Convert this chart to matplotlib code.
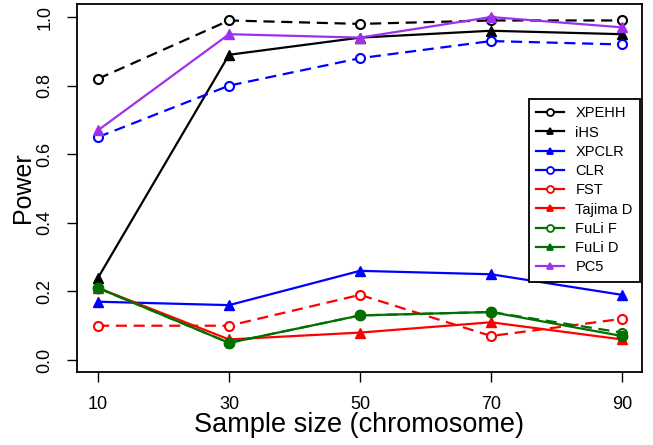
import numpy as np
import matplotlib.pyplot as plt
from matplotlib.lines import Line2D

#-------------- Data ----------------------------------------------------------------

sizes = [10, 30, 50, 70, 90]

xpehh   = [0.82, 0.99, 0.98, 0.99, 0.99]
ihs     = [0.24, 0.89, 0.94, 0.96, 0.95]
xpclr   = [0.17, 0.16, 0.26, 0.25, 0.19]
clr     = [0.65, 0.80, 0.88, 0.93, 0.92]
fst     = [0.10, 0.10, 0.19, 0.07, 0.12]
tajima  = [0.21, 0.06, 0.08, 0.11, 0.06]
fuli_f  = [0.21, 0.05, 0.13, 0.14, 0.08]
fuli_d  = [0.21, 0.05, 0.13, 0.14, 0.07]
pc5     = [0.67, 0.95, 0.94, 1.00, 0.97]

yticks = [0.0, 0.2, 0.4, 0.6, 0.8, 1.0]

names = ['XPEHH', 'iHS', 'XPCLR', 'CLR', 'FST', 'Tajima D', 'FuLi F', 'FuLi D', 'PC5']

#-------------- Plot ----------------------------------------------------------------

plt.rcParams['font.family'] = ['Liberation Sans', 'DejaVu Sans']

fig = plt.figure(figsize=(6.53, 4.45), dpi=100)
ax = fig.add_axes([0.118, 0.164, 0.865, 0.827])

green = '#007000'
purple = '#a030f0'
lw = 1.6
dash = (0, (5, 3))
ax.plot(sizes, xpehh, c='k', ls=dash, lw=lw, marker='o', mfc='white', mew=1.5, ms=6.5)
ax.plot(sizes, ihs, c='k', lw=lw, marker='^', ms=6.5)
ax.plot(sizes, xpclr, c='blue', lw=lw, marker='^', ms=6.5)
ax.plot(sizes, clr, c='blue', ls=dash, lw=lw, marker='o', mfc='white', mew=1.5, ms=6.5)
ax.plot(sizes, fst, c='red', ls=dash, lw=lw, marker='o', mfc='white', mew=1.5, ms=6.5)
ax.plot(sizes, tajima, c='red', lw=lw, marker='^', ms=6.5)
ax.plot(sizes, fuli_f, c=green, ls=dash, lw=lw, marker='o', mfc='white', mew=1.5, ms=6.5)
ax.plot(sizes, fuli_d, c=green, lw=lw, marker='o', ms=7.5)
ax.plot(sizes, pc5, c=purple, lw=lw, marker='^', ms=6.5)

ax.set_xlim(6.79, 93.05)
ax.set_ylim(-0.035, 1.038)
ax.set_xticks(sizes)
ax.set_yticks(yticks)
ax.set_yticklabels([f'{v:.1f}' for v in yticks], rotation=90, va='center')
ax.tick_params(labelsize=13, length=7, width=1, pad=10)
ax.set_xlabel('Sample size (chromosome)', fontsize=19.5, va='center')
ax.xaxis.set_label_coords(0.5, -0.144)
ax.set_ylabel('Power', fontsize=18, va='center')
ax.yaxis.set_label_coords(-0.095, 0.5)
for s in ax.spines.values():
    s.set_linewidth(1.3)

cols = ['k', 'k', 'blue', 'blue', 'red', 'red', green, green, purple]
marks = ['o', '^', '^', 'o', 'o', '^', 'o', '^', '^']
handles = [Line2D([], [], c=c, lw=lw, marker=m, ms=5,
                  mfc='white' if m == 'o' else c, mew=1.3)
           for c, m in zip(cols, marks)]
leg = fig.legend(handles, names, loc='upper right', bbox_to_anchor=(640 / 653, 1 - 99 / 445),
                 fontsize=10.5, frameon=True, fancybox=False, edgecolor='k', framealpha=1,
                 handlelength=1.9, labelspacing=0.36, borderpad=0.5, handletextpad=0.8,
                 borderaxespad=0)
leg.get_frame().set_linewidth(1.3)

plt.savefig('out.png', dpi=100)
